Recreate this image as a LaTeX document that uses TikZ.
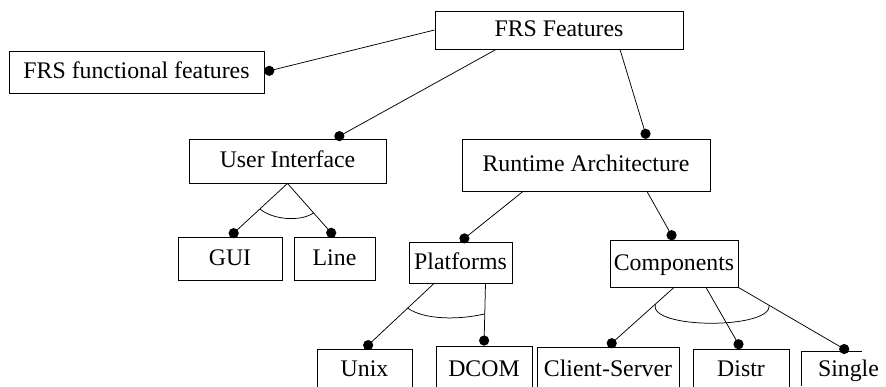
\documentclass[tikz,border=0pt]{standalone}
\usepackage{fontspec}
\setmainfont{Liberation Serif}
\usetikzlibrary{calc}
\newcommand\conline[2]{\draw[conn] (#1) -- (#2); \fill ($(#2)!5pt!(#1)$) circle (5.1pt);}
\begin{document}
\begin{tikzpicture}[x=1pt,y=-1pt,
  box/.style={draw, line width=0.9pt, inner sep=0pt, text height=16pt, text depth=2pt,
    font=\fontsize{23.8}{28}\selectfont},
  openbox/.style={box, draw=none},
  conn/.style={line width=0.75pt},
  orarc/.style={line width=0.75pt}]
\useasboundingbox (0,0) rectangle (886,387);
\clip (0,0) rectangle (886,387);
% nodes
\node[box, minimum width=248pt, minimum height=38pt] (fea) at (559,30) {FRS Features};
\node[box, minimum width=255pt, minimum height=42pt] (fun) at (136.5,72) {FRS functional features};
\node[box, minimum width=197pt, minimum height=44pt] (ui) at (287.5,161) {User Interface};
\node[box, minimum width=248pt, minimum height=52pt] (ra) at (586,165) {Runtime Architecture};
\node[box, minimum width=104pt, minimum height=43pt] (gui) at (230,258.5) {GUI};
\node[box, minimum width=81pt, minimum height=43pt] (lin) at (334.5,258.5) {Line};
\node[box, minimum width=103pt, minimum height=41pt] (plat) at (460.5,262.5) {Platforms};
\node[box, minimum width=128pt, minimum height=47pt] (comp) at (674,263.5) {Components};
\node[box, minimum width=95pt, minimum height=40pt] (unix) at (364.5,369) {Unix};
\node[box, minimum width=96pt, minimum height=46pt] (dcom) at (484,369) {DCOM};
\node[box, minimum width=142pt, minimum height=44pt] (cs) at (608,369) {Client-Server};
\node[box, minimum width=96pt, minimum height=40pt] (distr) at (741,369) {Distr};
\node[openbox, minimum width=93pt, minimum height=34pt] (single) at (848.5,369) {Single};
\draw[line width=0.9pt] (single.south west) -- (single.north west) -- ++(60,0);
% connector start points
\coordinate (feaL) at ([xshift=-63pt]fea.south);
\coordinate (feaR) at ([xshift=61pt]fea.south);
\coordinate (uiT) at ([xshift=47.5pt]ui.north);
\coordinate (raT) at ([xshift=61pt]ra.north);
\coordinate (raL) at ([xshift=-63pt]ra.south);
\coordinate (raR) at ([xshift=61pt]ra.south);
\coordinate (platL) at ([xshift=-26.5pt]plat.south);
\coordinate (platR) at ([xshift=25pt]plat.south);
\coordinate (compM) at ([xshift=32pt]comp.south);
% connectors
\conline{fea.west}{fun.east}
\conline{feaL}{uiT}
\conline{feaR}{raT}
\conline{ui.south}{gui.north}
\conline{ui.south}{lin.north}
\conline{raL}{plat.north}
\conline{raR}{comp.north}
\conline{platL}{unix.north}
\conline{platR}{dcom.north}
\conline{comp.south}{cs.north}
\conline{compM}{distr.north}
\conline{comp.south east}{single.north}
% group arcs
\draw[orarc] ($(ui.south)!0.48!(gui.north)$) .. controls +(13,11) and +(-13,9) .. ($(ui.south)!0.555!(lin.north)$);
\draw[orarc] ($(platL)!0.379!(unix.north)$) .. controls +(17,12) and +(-25,6) .. ($(platR)!0.49!(dcom.north)$);
\draw[orarc] ($(comp.south)!0.286!(cs.north)$) .. controls +(-6,25) and +(2,24) .. ($(comp.south east)!0.28!(single.north)$);
\end{tikzpicture}
\end{document}
